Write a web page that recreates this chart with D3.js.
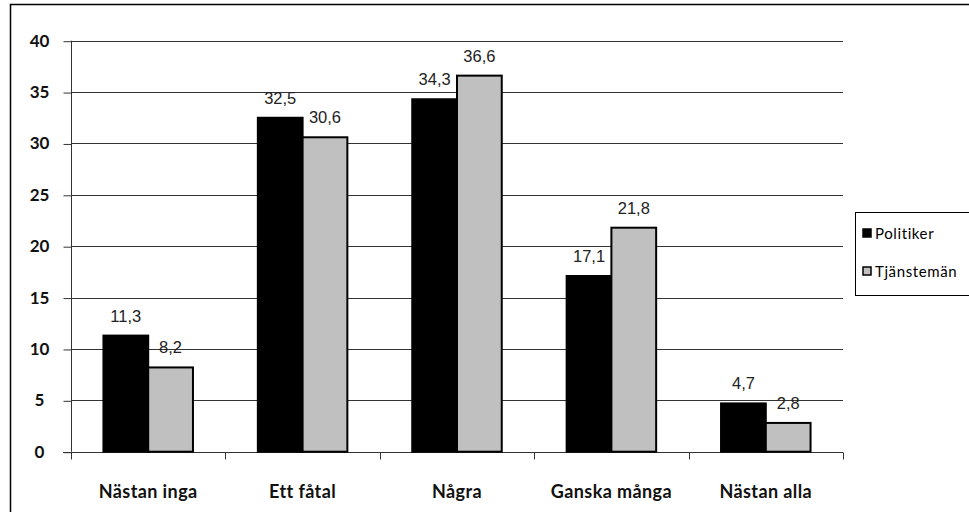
<!DOCTYPE html>
<html>
<head>
<meta charset="utf-8">
<script src="https://cdn.jsdelivr.net/npm/d3@7"></script>
<style>
  html, body { margin: 0; padding: 0; background: #fff; }
  svg { display: block; }
</style>
</head>
<body>
<svg id="chart" width="969" height="512"></svg>
<script>
const categories = ["Nästan inga", "Ett fåtal", "Några", "Ganska många", "Nästan alla"];
const seriesNames = ["Politiker", "Tjänstemän"];
const politiker = [11.3, 32.5, 34.3, 17.1, 4.7];
const tjansteman = [8.2, 30.6, 36.6, 21.8, 2.8];
const yTicks = [0, 5, 10, 15, 20, 25, 30, 35, 40];
const colors = ["#000000", "#c0c0c0"];

const svg = d3.select("#chart");
const plot = { left: 71, right: 843, top: 40.7, bottom: 451.7 };

// outer chart frame (runs past the right and bottom edges of the view)
svg.append("rect")
  .attr("x", 10.5).attr("y", 4.5)
  .attr("width", 1000).attr("height", 600)
  .attr("fill", "#fff").attr("stroke", "#000").attr("stroke-width", 1.5);

const x0 = d3.scaleBand().domain(categories).range([plot.left, plot.right]);
const barW = x0.bandwidth() / 3.45;
const x1 = d3.scaleBand().domain(seriesNames).range([0, barW * 2]);
const y = d3.scaleLinear().domain([0, 40]).range([plot.bottom, plot.top]);

// horizontal gridlines
svg.append("g")
  .selectAll("line").data(yTicks.filter(d => d > 0)).join("line")
  .attr("x1", plot.left).attr("x2", plot.right)
  .attr("y1", d => Math.round(y(d)) + 0.5).attr("y2", d => Math.round(y(d)) + 0.5)
  .attr("stroke", "#333").attr("stroke-width", 1);

// y axis
const yAxis = d3.axisLeft(y).tickValues(yTicks).tickSize(8).tickPadding(16).tickFormat(d3.format("d"));
const gy = svg.append("g").attr("transform", `translate(${plot.left + 0.5},0)`).call(yAxis);
gy.select(".domain").attr("stroke", "#333").attr("d", `M0,${plot.top}V${plot.bottom}`);
gy.selectAll(".tick line").attr("stroke", "#333").attr("transform", "translate(0,0.5)");
gy.selectAll(".tick text")
  .attr("font-family", "Lato, sans-serif").attr("font-weight", 700)
  .attr("font-size", 17).attr("fill", "#111").attr("text-anchor", "middle").attr("dx", -8);

// x axis line, category boundary ticks and labels
const gx = svg.append("g").attr("transform", `translate(0,${Math.round(plot.bottom) + 0.5})`);
gx.append("line").attr("x1", plot.left - 8).attr("x2", plot.right).attr("stroke", "#333");
const boundaries = categories.map(c => x0(c)).concat([plot.right]);
gx.selectAll("line.tk").data(boundaries).join("line").attr("class", "tk")
  .attr("x1", d => Math.round(d) + 0.5).attr("x2", d => Math.round(d) + 0.5)
  .attr("y1", 0).attr("y2", 7).attr("stroke", "#333");
gx.selectAll("text").data(categories).join("text")
  .attr("x", d => x0(d) + x0.bandwidth() / 2).attr("y", 45)
  .attr("text-anchor", "middle")
  .attr("font-family", "Lato, sans-serif").attr("font-weight", 700).attr("font-size", 18)
  .attr("letter-spacing", 0.4)
  .attr("fill", "#111").text(d => d);

// bars
const rows = categories.map((c, i) => ({ cat: c, vals: [politiker[i], tjansteman[i]] }));
const groups = svg.append("g").selectAll("g").data(rows).join("g")
  .attr("transform", d => `translate(${x0(d.cat) + x0.bandwidth() / 2 - barW},0)`);

groups.selectAll("rect").data(d => d.vals.map((v, j) => ({ v, s: seriesNames[j], j }))).join("rect")
  .attr("x", d => x1(d.s)).attr("width", barW)
  .attr("y", d => y(d.v)).attr("height", d => y(0) - y(d.v))
  .attr("fill", d => colors[d.j]).attr("stroke", "#000").attr("stroke-width", 2);

// value labels
groups.selectAll("text").data(d => d.vals.map((v, j) => ({ v, s: seriesNames[j] }))).join("text")
  .attr("x", d => x1(d.s) + barW / 2).attr("y", d => y(d.v) - 14)
  .attr("text-anchor", "middle")
  .attr("font-family", "'Liberation Sans', Arial, sans-serif").attr("font-size", 16.5)
  .attr("fill", "#222").text(d => d3.format(".1f")(d.v).replace(".", ","));

// legend
const lg = svg.append("g");
lg.append("rect").attr("x", 855.5).attr("y", 212.5).attr("width", 200).attr("height", 83)
  .attr("fill", "#fff").attr("stroke", "#000").attr("stroke-width", 1);
seriesNames.forEach((s, i) => {
  const yy = 234 + i * 38;
  lg.append("rect").attr("x", 863).attr("y", yy - 5).attr("width", 8).attr("height", 8)
    .attr("fill", colors[i]).attr("stroke", "#000").attr("stroke-width", 1.5);
  lg.append("text").attr("x", 875).attr("y", yy).attr("dy", "0.35em")
    .attr("font-family", "Lato, sans-serif").attr("font-size", 15).attr("letter-spacing", 0.6)
    .attr("fill", "#000").text(s);
});
</script>
</body>
</html>
